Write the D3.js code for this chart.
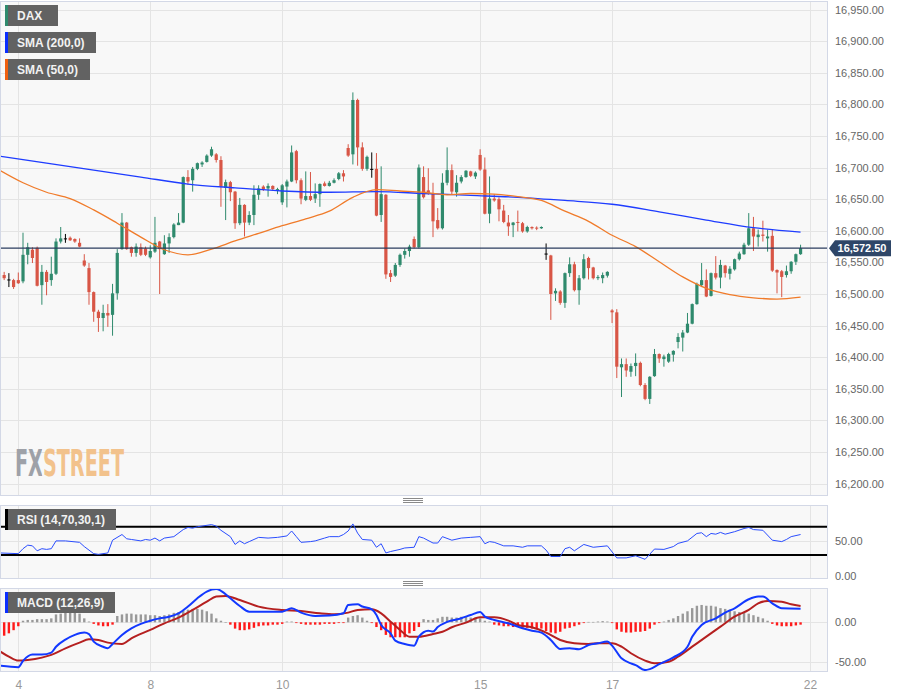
<!DOCTYPE html>
<html>
<head>
<meta charset="utf-8">
<script src="https://cdn.jsdelivr.net/npm/d3@7"></script>
<style>
  body { margin: 0; background: #fff; }
</style>
</head>
<body>
<script>
// Candles, one entry per bar
const opens = [16513,16530,16523,16522,16522,16520,16562,16570,16573,16514,16535,16522,16532,16583,16588,16589,16587,16581,16553,16541,
  16503,16472,16462,16470,16467,16501,16571,16613,16574,16565,16574,16572,16558,16567,16583,16563,16580,16590,16609,16613,
  16685,16680,16698,16705,16709,16719,16721,16712,16668,16677,16662,16612,16641,16613,16625,16657,16670,16667,16671,16663,
  16645,16670,16678,16726,16680,16649,16655,16651,16658,16675,16671,16676,16682,16691,16731,16721,16807,16732,16698,16698,
  16698,16625,16657,16533,16529,16546,16562,16568,16587,16574,16685,16664,16659,16617,16604,16676,16696,16661,16678,16685,
  16694,16686,16720,16697,16627,16651,16650,16632,16613,16609,16614,16612,16599,16606,16605,16604,16564,16561,16501,16504,
  16486,16533,16547,16506,16525,16557,16542,16525,16525,16529,16474,16471,16384,16389,16377,16386,16391,16356,16334,16370,
  16405,16397,16393,16404,16424,16431,16439,16453,16484,16514,16522,16497,16533,16526,16545,16532,16539,16555,16563,16578,
  16604,16590,16594,16588,16592,16538,16536,16530,16536,16551,16563];
const highs = [16533,16535,16533,16524,16534,16597,16581,16574,16575,16546,16538,16559,16588,16606,16595,16591,16588,16588,16563,16549,
  16504,16475,16483,16484,16516,16571,16628,16614,16575,16580,16580,16575,16577,16622,16584,16593,16596,16612,16628,16686,
  16696,16701,16708,16710,16721,16733,16723,16718,16681,16679,16663,16652,16642,16631,16672,16672,16672,16675,16672,16668,
  16674,16681,16735,16728,16683,16694,16693,16675,16675,16678,16679,16683,16693,16696,16737,16819,16809,16740,16719,16724,
  16723,16702,16658,16538,16549,16564,16572,16578,16591,16705,16702,16699,16676,16636,16691,16732,16705,16688,16688,16696,
  16695,16694,16729,16716,16686,16658,16653,16641,16625,16614,16632,16614,16608,16607,16607,16607,16580,16562,16509,16506,
  16534,16558,16551,16530,16563,16559,16543,16530,16534,16536,16476,16476,16398,16398,16390,16406,16393,16359,16370,16413,
  16406,16404,16407,16411,16438,16443,16470,16485,16518,16549,16539,16534,16560,16554,16546,16544,16556,16567,16581,16628,
  16622,16602,16616,16602,16602,16539,16538,16545,16552,16564,16578];
const lows = [16511,16522,16511,16508,16516,16517,16547,16549,16512,16483,16498,16513,16530,16580,16581,16584,16581,16574,16543,16483,
  16456,16440,16441,16448,16434,16491,16570,16570,16559,16559,16560,16560,16556,16565,16500,16562,16565,16588,16609,16612,
  16673,16662,16696,16701,16708,16717,16708,16638,16617,16647,16603,16609,16591,16609,16609,16649,16663,16654,16663,16658,
  16641,16637,16677,16675,16642,16647,16647,16644,16638,16670,16670,16675,16680,16678,16717,16705,16703,16695,16695,16684,
  16623,16614,16524,16519,16527,16543,16556,16559,16572,16572,16651,16657,16590,16602,16602,16672,16658,16654,16675,16684,
  16685,16682,16695,16626,16612,16646,16615,16612,16592,16590,16599,16597,16597,16602,16601,16603,16554,16459,16489,16483,
  16478,16527,16504,16483,16523,16523,16523,16522,16517,16526,16454,16367,16337,16369,16369,16370,16354,16332,16326,16369,
  16391,16385,16391,16393,16414,16409,16438,16452,16483,16511,16495,16496,16523,16509,16526,16523,16537,16553,16562,16576,
  16568,16575,16583,16567,16535,16501,16495,16526,16532,16546,16562];
const closes = [16530,16525,16523,16511,16517,16562,16574,16557,16513,16535,16519,16532,16583,16588,16588,16585,16583,16575,16545,16503,
  16472,16462,16470,16466,16501,16565,16613,16571,16565,16575,16562,16562,16568,16581,16571,16580,16590,16610,16613,16685,
  16678,16698,16707,16708,16719,16729,16712,16670,16677,16661,16612,16641,16613,16625,16657,16667,16666,16671,16666,16666,
  16672,16678,16724,16680,16651,16655,16649,16658,16674,16671,16676,16680,16691,16686,16719,16807,16732,16698,16717,16698,
  16624,16658,16531,16527,16546,16562,16568,16575,16574,16700,16653,16659,16615,16604,16676,16696,16662,16676,16685,16695,
  16687,16692,16697,16627,16651,16648,16634,16614,16607,16613,16613,16599,16606,16604,16604,16606,16564,16500,16505,16486,
  16533,16547,16506,16525,16555,16541,16525,16527,16530,16535,16471,16385,16389,16379,16386,16391,16356,16334,16369,16405,
  16398,16401,16405,16410,16432,16439,16453,16484,16516,16522,16496,16533,16526,16546,16533,16540,16555,16564,16578,16604,
  16591,16594,16592,16591,16537,16534,16527,16536,16551,16563,16572.5];

// Moving averages sampled at bar indexes: [bar, value]
const sma200 = [[0,16718],[10,16707],[20,16696],[30,16685],[40,16674],[50,16668],[60,16663],[70,16661],[80,16662],
  [90,16659],[100,16656],[110,16653],[120,16648],[130,16642],[140,16630],[150,16617],[160,16605],[170,16598]];
const sma50 = [[0,16696],[5,16676],[10,16661],[15,16651],[20,16633],[25,16612],[30,16590],[35,16570],[40,16562],
  [45,16571],[50,16584],[55,16596],[60,16608],[65,16619],[70,16631],[75,16653],[80,16665],[85,16663],[90,16661],
  [95,16657],[100,16659],[105,16658],[110,16654],[115,16648],[120,16631],[125,16615],[130,16593],[135,16575],
  [140,16551],[145,16527],[150,16509],[155,16499],[160,16494],[165,16492],[170,16495]];

// RSI (14) sampled: [bar, value]
const rsi = [[0,33],[4,32],[5,39],[6,44],[7,43],[8,36],[9,39],[10,38],[11,39],[12,50],[14,50],[17,48],[18,42],[20,32],
  [21,31],[23,33],[24,51],[26,59],[27,53],[28,52],[30,50],[31,52],[32,51],[33,54],[34,50],[35,54],[37,56],[39,66],
  [40,69],[41,68],[42,70],[43,71],[45,73],[46,71],[47,65],[49,56],[50,45],[51,50],[52,46],[53,49],[55,55],[57,54],
  [59,55],[61,57],[62,64],[63,56],[64,48],[66,49],[67,50],[69,54],[70,56],[72,56],[73,59],[74,64],[75,74],[76,61],
  [77,52],[79,51],[80,41],[81,46],[82,33],[83,35],[85,38],[86,40],[88,41],[89,56],[90,54],[92,47],[93,47],[94,56],
  [96,51],[98,54],[100,55],[102,56],[103,46],[104,49],[105,48],[107,43],[109,43],[111,41],[112,43],[115,43],[116,37],
  [117,28],[119,28],[120,39],[121,41],[122,36],[124,45],[126,41],[129,43],[131,26],[133,26],[135,29],[137,24],
  [139,38.5],[141,38],[143,42],[144,46.5],[146,50],[148,60.5],[149,61.5],[150,56],[151,60.5],[152,59.5],[153,62],
  [154,59.5],[156,63],[158,67.5],[159,69],[160,66],[162,65],[164,51],[166,49],[167,52],[168,56],[170,59]];

// MACD (12,26,9): [bar, value]
const macd = [[0,-55],[4,-57],[5,-49],[7,-41],[9,-41],[11,-38.5],[12,-31],[14,-22],[16,-16],[18,-13],[19,-15],[20,-24.5],
  [22,-31],[23,-33],[24,-27.5],[26,-16],[28,-7.6],[30,-2],[32,2],[34,5],[36,7],[38,11.4],[40,20],[42,30.5],[44,39],
  [46,42.3],[47,40],[49,30.5],[51,20.7],[53,13.5],[57,13.5],[60,13.5],[62,17.8],[64,12.3],[67,8],[70,8.5],[73,11.4],
  [74,22],[76,22.8],[77,20],[79,16.5],[80,9.3],[81,-3.4],[83,-14],[84,-23.3],[86,-27.5],[88,-29.6],[89,-18.2],
  [91,-10.6],[92,-11.8],[93,-6],[95,0.5],[98,5.1],[100,9.3],[102,13.1],[103,7.2],[105,3],[108,-1.3],[111,-7.6],
  [113,-10.6],[115,-13.1],[117,-22.4],[119,-33.8],[121,-33],[123,-34.3],[125,-28.8],[127,-26.6],[129,-24.5],
  [130,-29.6],[132,-45.7],[134,-52.1],[135,-54.3],[137,-60.6],[138,-59.4],[140,-53.1],[143,-44.6],[146,-31.1],
  [147,-18.4],[149,-3.4],[152,5.1],[154,12.3],[156,17.8],[159,29.2],[161,32.6],[162,32.6],[164,24.1],[166,17.8],[170,17.3]];
const signal = [[0,-36.4],[2,-43.6],[4,-48.6],[6,-47.8],[9,-44.8],[11,-41.4],[14,-33],[17,-25.8],[19,-21.6],[21,-22.4],
  [23,-25.8],[26,-27.5],[28,-20.3],[32,-9.7],[35,-1.3],[38,5.9],[41,15.7],[44,26.2],[46,32.6],[48,33.4],[51,28.3],
  [55,19.9],[60,15.7],[64,14.4],[68,11.4],[71,10.2],[74,12.3],[76,15.7],[79,16.5],[81,11.4],[83,0.8],[85,-9.7],
  [87,-18.2],[89,-18.2],[92,-14.8],[94,-12],[96,-6.3],[99,-0.4],[102,6.3],[105,6.3],[108,2.1],[110,-3.4],[113,-6.3],
  [116,-13.1],[119,-22.4],[122,-26.6],[125,-27.5],[127,-26.6],[130,-26.6],[132,-30.9],[134,-39.3],[137,-48.6],
  [139,-52.1],[142,-50],[144,-43.6],[147,-30.9],[150,-18.2],[153,-5.5],[156,7.2],[159,15.7],[161,24.1],[163,27],
  [166,26.2],[168,22.8],[170,20.7]];
const hist = [-18,-17,-14,-10,-5,2,3,3,4,4,4,5,10,11,12,12,12,11,5,1,
  -2,-4,-5,-5,-3,8,10,11,11,10,10,10,9,9,8,9,10,12,13,15,
  16,17,17,16,14,11,5,2,0,-3,-8,-10,-10,-9,-7,-5,-4,-4,-3,-3,
  -2,1,1,-1,-2,-3,-3,-3,-3,-2,-2,-2,-1,-1,6,8,9,6,2,-1,
  -6,-10,-16,-19,-19,-19,-19,-14,-11,-6,4,3,3,5,7,7,6,6,7,7,
  6,6,5,2,1,-3,-4,-5,-5,-6,-6,-7,-7,-8,-8,-8,-11,-13,-14,-12,
  -8,-7,-5,-3,-1,0.5,0.5,1,1.5,1,-1,-9,-12,-13,-13,-12,-12,-11,-8,-3,
  -1,1,3,5,8,11,14,18,21,22,21,21,20,18,17,16,14,13,12,11,
  9,7,5,2,-2,-4,-5,-5,-5,-4,-3];

const dayTicks = [4, 32, 60, 102, 130, 172];
const dayLabels = ['4', '8', '10', '15', '17', '22'];
const priceTicks = [16200,16250,16300,16350,16400,16450,16500,16550,16600,16650,16700,16750,16800,16850,16900,16950];
const lastPrice = 16572.5;

// Layout
const width = 898;
const height = 697;
const plotRight = 827;
const main = { top: 1, bottom: 495 };
const rsiPane = { top: 505, bottom: 578 };
const macdPane = { top: 588, bottom: 671 };
const green = '#2f8a6d';
const red = '#d85646';

const x = d3.scaleLinear().domain([4, 172]).range([18.3, 810]);
const y = d3.scaleLinear().domain([16200, 16950]).range([483.6, 9.6]);
const yRsi = d3.scaleLinear().domain([0, 100]).range([576.3, 505.5]);
const yMacd = d3.scaleLinear().domain([-50, 0]).range([661.7, 622.3]);

const svg = d3.select('body')
  .append('svg')
  .attr('width', width)
  .attr('height', height)
  .style('font-family', 'Arial, "Liberation Sans", sans-serif');

const defs = svg.append('defs');
[['clipMain', main], ['clipRsi', rsiPane], ['clipMacd', macdPane]].forEach(([id, p]) => {
  defs.append('clipPath').attr('id', id)
    .append('rect').attr('x', 1).attr('y', p.top + 1)
    .attr('width', plotRight - 2).attr('height', p.bottom - p.top - 1);
});

// two-tone fill for the watermark word (gray "FX", orange "STREET")
const wmGrad = defs.append('linearGradient')
  .attr('id', 'wmGrad')
  .attr('gradientUnits', 'userSpaceOnUse')
  .attr('x1', 0).attr('x2', 109).attr('y1', 0).attr('y2', 0);
wmGrad.append('stop').attr('offset', 0.245).attr('stop-color', '#9ea1a8');
wmGrad.append('stop').attr('offset', 0.245).attr('stop-color', '#f2c28c');

// Panes with grid
[main, rsiPane, macdPane].forEach((p) => {
  svg.append('rect')
    .attr('x', 0.5).attr('y', p.top + 0.5)
    .attr('width', plotRight).attr('height', p.bottom - p.top)
    .attr('fill', '#f8f8f8')
    .attr('stroke', '#d3d8e6');
  svg.append('g')
    .attr('stroke', '#e4e4e4')
    .selectAll('line')
    .data(dayTicks)
    .join('line')
    .attr('x1', (d) => Math.round(x(d)) + 0.5)
    .attr('x2', (d) => Math.round(x(d)) + 0.5)
    .attr('y1', p.top + 1)
    .attr('y2', p.bottom);
});

svg.append('g')
  .attr('stroke', '#e4e4e4')
  .selectAll('line')
  .data(priceTicks)
  .join('line')
  .attr('x1', 1).attr('x2', plotRight)
  .attr('y1', (d) => Math.round(y(d)) + 0.5)
  .attr('y2', (d) => Math.round(y(d)) + 0.5);

svg.append('g')
  .attr('stroke', '#e4e4e4')
  .selectAll('line')
  .data([50])
  .join('line')
  .attr('x1', 1).attr('x2', plotRight)
  .attr('y1', (d) => Math.round(yRsi(d)) + 0.5)
  .attr('y2', (d) => Math.round(yRsi(d)) + 0.5);

svg.append('g')
  .attr('stroke', '#e4e4e4')
  .selectAll('line')
  .data([0, -50])
  .join('line')
  .attr('x1', 1).attr('x2', plotRight)
  .attr('y1', (d) => Math.round(yMacd(d)) + 0.5)
  .attr('y2', (d) => Math.round(yMacd(d)) + 0.5);

// Watermark (narrow font, stretched vertically)
svg.append('text')
  .attr('transform', 'translate(15,476) scale(1,1.42)')
  .attr('font-family', '"Liberation Sans Narrow", "DejaVu Sans Condensed", Arial, sans-serif')
  .attr('font-weight', 'bold')
  .attr('font-size', 26)
  .attr('textLength', 109)
  .attr('lengthAdjust', 'spacingAndGlyphs')
  .attr('fill', 'url(#wmGrad)')
  .text('FXSTREET');

// Candles
const bars = d3.range(opens.length).map((i) => ({
  i, o: opens[i], h: highs[i], l: lows[i], c: closes[i]
}));
const candleColor = (d) => (d.c > d.o ? green : d.c < d.o ? red : '#000');

const gCandles = svg.append('g').attr('clip-path', 'url(#clipMain)');
gCandles.selectAll('line')
  .data(bars)
  .join('line')
  .attr('x1', (d) => x(d.i))
  .attr('x2', (d) => x(d.i))
  .attr('y1', (d) => y(d.h))
  .attr('y2', (d) => y(d.l))
  .attr('stroke', candleColor)
  .attr('stroke-width', 1);
gCandles.selectAll('rect')
  .data(bars)
  .join('rect')
  .attr('x', (d) => x(d.i) - 1.6)
  .attr('width', 3.2)
  .attr('y', (d) => y(Math.max(d.o, d.c)))
  .attr('height', (d) => Math.max(1, Math.abs(y(d.o) - y(d.c))))
  .attr('fill', candleColor);

// Moving averages
const maLine = d3.line()
  .x((d) => x(d[0]))
  .y((d) => y(d[1]))
  .curve(d3.curveMonotoneX);

const gMa = svg.append('g').attr('clip-path', 'url(#clipMain)').attr('fill', 'none');
gMa.append('path').attr('d', maLine(sma200)).attr('stroke', '#1e3cff').attr('stroke-width', 1.3);
gMa.append('path').attr('d', maLine(sma50)).attr('stroke', '#f07b2a').attr('stroke-width', 1.3);

// Last price line and label
const yp = y(lastPrice);
svg.append('line')
  .attr('x1', 1).attr('x2', plotRight)
  .attr('y1', yp).attr('y2', yp)
  .attr('stroke', '#2b3d5f')
  .attr('stroke-width', 1.2);
svg.append('path')
  .attr('d', `M${plotRight + 2},${yp} L${plotRight + 8},${yp - 8} L891,${yp - 8} L891,${yp + 8} L${plotRight + 8},${yp + 8} Z`)
  .attr('fill', '#2e4668');
svg.append('text')
  .attr('x', 862).attr('y', yp)
  .attr('dy', '0.35em')
  .attr('text-anchor', 'middle')
  .attr('fill', '#fff')
  .attr('font-weight', 'bold')
  .attr('font-size', 11)
  .text(d3.format(',.2f')(lastPrice));

// Price axis
svg.append('g')
  .attr('transform', `translate(${plotRight},0)`)
  .call(d3.axisRight(y).tickValues(priceTicks).tickFormat(d3.format(',.2f')).tickSize(0).tickPadding(8))
  .call((g) => g.select('.domain').remove())
  .call((g) => g.selectAll('text').attr('fill', '#666').attr('font-size', 11).attr('font-family', 'Arial, "Liberation Sans", sans-serif'));

// RSI pane
svg.append('g')
  .attr('stroke', '#000')
  .attr('stroke-width', 2)
  .selectAll('line')
  .data([70, 30])
  .join('line')
  .attr('x1', 1).attr('x2', plotRight)
  .attr('y1', (d) => yRsi(d)).attr('y2', (d) => yRsi(d));

svg.append('path')
  .attr('clip-path', 'url(#clipRsi)')
  .attr('fill', 'none')
  .attr('stroke', '#2a4dff')
  .attr('stroke-width', 1)
  .attr('d', d3.line().x((d) => x(d[0])).y((d) => yRsi(d[1]))(rsi));

svg.append('g')
  .attr('transform', `translate(${plotRight},0)`)
  .call(d3.axisRight(yRsi).tickValues([0, 50]).tickFormat((d) => d.toFixed(2)).tickSize(0).tickPadding(8))
  .call((g) => g.select('.domain').remove())
  .call((g) => g.selectAll('text').attr('fill', '#666').attr('font-size', 11).attr('font-family', 'Arial, "Liberation Sans", sans-serif'));

// MACD pane
const gMacd = svg.append('g').attr('clip-path', 'url(#clipMacd)');
gMacd.selectAll('rect')
  .data(hist.map((v, i) => ({ i, v })))
  .join('rect')
  .attr('x', (d) => x(d.i) - 1.2)
  .attr('width', 2.4)
  .attr('y', (d) => yMacd(Math.max(0, d.v)))
  .attr('height', (d) => Math.max(0.6, Math.abs(yMacd(d.v) - yMacd(0))))
  .attr('fill', (d) => (d.v >= 0 ? '#999' : '#ff1a1a'));

const macdLine = d3.line()
  .x((d) => x(d[0]))
  .y((d) => yMacd(d[1]))
  .curve(d3.curveMonotoneX);
gMacd.append('path').attr('d', macdLine(signal)).attr('fill', 'none').attr('stroke', '#b52020').attr('stroke-width', 2);
gMacd.append('path').attr('d', macdLine(macd)).attr('fill', 'none').attr('stroke', '#1238ff').attr('stroke-width', 2);

svg.append('g')
  .attr('transform', `translate(${plotRight},0)`)
  .call(d3.axisRight(yMacd).tickValues([0, -50]).tickFormat((d) => d.toFixed(2)).tickSize(0).tickPadding(8))
  .call((g) => g.select('.domain').remove())
  .call((g) => g.selectAll('text').attr('fill', '#666').attr('font-size', 11).attr('font-family', 'Arial, "Liberation Sans", sans-serif'));

// Time axis
svg.append('g')
  .attr('transform', `translate(0,${macdPane.bottom})`)
  .call(d3.axisBottom(x).tickValues(dayTicks).tickFormat((d, i) => dayLabels[i]).tickSize(0).tickPadding(9))
  .call((g) => g.select('.domain').remove())
  .call((g) => g.selectAll('text').attr('fill', '#999').attr('font-size', 12).attr('font-family', 'Arial, "Liberation Sans", sans-serif'));

// Pane resize handles
[main.bottom + 3, macdPane.top - 7].forEach((top) => {
  svg.append('g')
    .attr('stroke', '#8a8a8a')
    .selectAll('line')
    .data([0, 2, 4])
    .join('line')
    .attr('x1', 403).attr('x2', 423)
    .attr('y1', (d) => top + d + 0.5).attr('y2', (d) => top + d + 0.5);
});

// Legends
const legends = [
  { label: 'DAX', color: '#2f8a6d', x: 5, y: 5, w: 53 },
  { label: 'SMA (200,0)', color: '#0a2eff', x: 5, y: 32, w: 91 },
  { label: 'SMA (50,0)', color: '#f06010', x: 5, y: 59, w: 85 },
  { label: 'RSI (14,70,30,1)', color: '#000', x: 5, y: 509, w: 111 },
  { label: 'MACD (12,26,9)', color: '#0a2eff', x: 5, y: 592, w: 110 }
];
const gLeg = svg.append('g');
legends.forEach((d) => {
  gLeg.append('rect').attr('x', d.x).attr('y', d.y).attr('width', d.w).attr('height', 21).attr('fill', '#626262');
  gLeg.append('rect').attr('x', d.x).attr('y', d.y).attr('width', 3).attr('height', 21).attr('fill', d.color);
  gLeg.append('text')
    .attr('x', d.x + 12).attr('y', d.y + 10.5)
    .attr('dy', '0.35em')
    .attr('fill', '#f2f2f2')
    .attr('font-weight', 'bold')
    .attr('font-size', 12)
    .text(d.label);
});
</script>
</body>
</html>
